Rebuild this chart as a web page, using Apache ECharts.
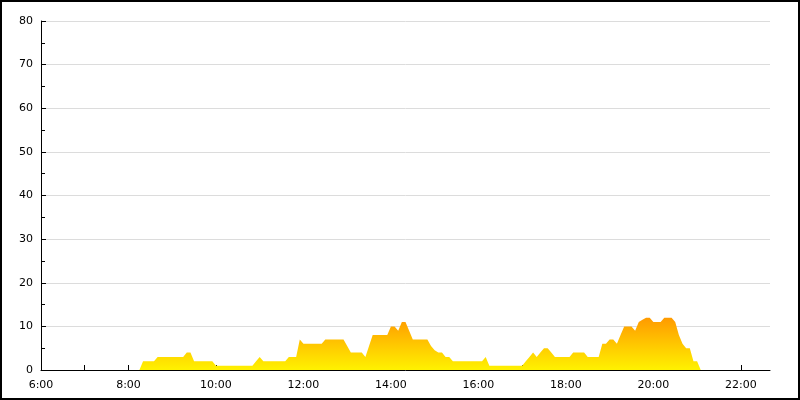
<!DOCTYPE html>
<html>
<head>
<meta charset="utf-8">
<script src="https://cdn.jsdelivr.net/npm/echarts@6/dist/echarts.min.js"></script>
<style>
html,body{margin:0;padding:0;background:#fff;}
#chart{width:800px;height:400px;}
</style>
</head>
<body>
<div id="chart"></div>
<script>
// Sampling: one reading every 5 minutes starting at 08:15
const startTime = '08:15';
const stepMinutes = 5;
const values = [
  0, 2, 2, 2, 2, 3, 3, 3, 3, 3, 3, 3, 3, 4, 4, 2, 2, 2, 2, 2, 2,        // 08:15 - 09:55
  1, 1, 1, 1, 1, 1, 1, 1, 1, 1, 1, 2, 3, 2, 2, 2, 2, 2, 2, 2, 3, 3, 3, 7, // 10:00 - 11:55
  6, 6, 6, 6, 6, 6, 7, 7, 7, 7, 7, 7,                                    // 12:00 - 12:55
  5.5, 4, 4, 4, 4, 3, 5.5, 8, 8, 8, 8, 8,                                // 13:00 - 13:55
  10, 10, 9, 11, 11, 9, 7, 7, 7, 7, 7, 5.5,                              // 14:00 - 14:55
  4.5, 4, 4, 3, 3, 2, 2, 2, 2, 2, 2, 2,                                  // 15:00 - 15:55
  2, 2, 3, 1, 1, 1, 1, 1, 1, 1, 1, 1,                                    // 16:00 - 16:55
  1, 2, 3, 4, 3, 4, 5, 5, 4, 3, 3, 3,                                    // 17:00 - 17:55
  3, 3, 4, 4, 4, 4, 3, 3, 3, 3, 6, 6,                                    // 18:00 - 18:55
  7, 7, 6, 8, 10, 10, 10, 9, 11, 11.5, 12, 12,                           // 19:00 - 19:55
  11, 11, 11, 12, 12, 12, 11, 8, 6, 5, 5, 2,                             // 20:00 - 20:55
  2, 0                                                                   // 21:00 - 21:05
];
const xMinTime = '06:00';
const xMaxTime = '22:40';
const yTicks = [0, 10, 20, 30, 40, 50, 60, 70, 80];

function toMin(s){ const p = s.split(':'); return (+p[0])*60 + (+p[1]); }
const start = toMin(startTime);
const seriesData = values.map((v, i) => [start + i*stepMinutes, v]);

const chart = echarts.init(document.getElementById('chart'), null, {renderer:'canvas'});
const font = 'DejaVu Sans';
chart.setOption({
  animation: false,
  backgroundColor: '#fff',
  grid: { left: 41, right: 30, top: 21, bottom: 30 },
  graphic: [{
    type: 'rect', silent: true, z: 100,
    shape: { x: 1, y: 1, width: 798, height: 398 },
    style: { fill: 'none', stroke: '#000', lineWidth: 2 }
  }],
  xAxis: {
    type: 'value',
    min: toMin(xMinTime),
    max: toMin(xMaxTime),
    interval: 60,
    axisLine: { lineStyle: { color: '#000', width: 1 } },
    axisTick: { show: true, inside: true, length: 5, lineStyle: { color: '#000' } },
    splitLine: { show: false },
    axisLabel: {
      color: '#000', fontFamily: font, fontSize: 11, margin: 10,
      showMaxLabel: false,
      formatter: function(v){ return (v % 120 === 0) ? (Math.floor(v/60) + ':00') : ''; }
    }
  },
  yAxis: {
    type: 'value',
    min: yTicks[0],
    max: yTicks[yTicks.length-1],
    interval: 10,
    axisLine: { show: true, lineStyle: { color: '#000', width: 1 } },
    axisTick: { show: true, inside: true, length: 5, lineStyle: { color: '#000' } },
    minorTick: { show: true, splitNumber: 2, length: 4, lineStyle: { color: '#000' } },
    splitLine: { show: true, lineStyle: { color: '#dcdcdc', width: 1 } },
    axisLabel: { color: '#000', fontFamily: font, fontSize: 11, margin: 8 }
  },
  series: [{
    type: 'line',
    data: seriesData,
    showSymbol: false,
    symbol: 'none',
    lineStyle: { width: 0 },
    areaStyle: {
      opacity: 1,
      color: new echarts.graphic.LinearGradient(0, 0, 0, 1, [
        { offset: 0, color: '#FF9A00' },
        { offset: 1, color: '#FFF200' }
      ])
    },
    z: 1
  }]
});
</script>
</body>
</html>
